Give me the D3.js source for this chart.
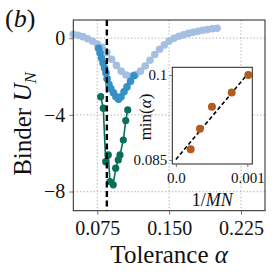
<!DOCTYPE html>
<html>
<head>
<meta charset="utf-8">
<script src="https://cdn.jsdelivr.net/npm/d3@7"></script>
<style>
  body { margin: 0; background: #fff; }
  svg text { font-family: "Liberation Serif", "DejaVu Serif", serif !important; fill: #111; }
</style>
</head>
<body>
<div id="chart"></div>
<script>
// data
var alphaLight = [0.05, 0.055, 0.06, 0.065, 0.07, 0.075, 0.08, 0.085, 0.09, 0.095, 0.1, 0.105, 0.11, 0.115, 0.12, 0.125, 0.13, 0.135, 0.14, 0.145, 0.15, 0.155, 0.16, 0.165, 0.17, 0.175, 0.18, 0.185, 0.19, 0.195, 0.2];
var binderLight = [0.2, 0.15, 0.08, -0.03, -0.15, -0.3, -0.48, -0.75, -1.1, -1.42, -1.72, -1.92, -1.97, -1.9, -1.72, -1.45, -1.15, -0.85, -0.58, -0.35, -0.15, 0.0, 0.1, 0.18, 0.25, 0.31, 0.36, 0.41, 0.45, 0.49, 0.52];

var alphaMid = [0.0763, 0.0779, 0.0794, 0.081, 0.0826, 0.0841, 0.0852, 0.0872, 0.0893, 0.0919, 0.0945, 0.0972, 0.0998, 0.1029, 0.106, 0.1097, 0.1133];
var binderMid = [-0.53, -0.77, -1.03, -1.29, -1.55, -1.81, -2.12, -2.41, -2.64, -2.85, -3.06, -3.19, -3.06, -2.8, -2.54, -2.25, -1.96];

var alphaDark = [0.0786, 0.0813, 0.0838, 0.0865, 0.0883, 0.0917, 0.0942, 0.0969, 0.0987, 0.1022, 0.1047, 0.1068];
var binderDark = [-3.05, -3.65, -6.44, -6.09, -7.48, -7.65, -6.78, -6.35, -6.09, -5.31, -4.3, -3.74];

var alphaStar = 0.085;

var xTicks = [0.075, 0.15, 0.225];
var xTickLabels = ["0.075", "0.150", "0.225"];
var yTicks = [0, -4, -8];
var yTickLabels = ["0", "\u22124", "\u22128"];

// inset
var invMN = [0.000207, 0.000337, 0.000505, 0.000781, 0.001014];
var minAlpha = [0.0869, 0.0905, 0.0944, 0.0969, 0.1];
var fitX = [0, 0.00102];
var fitY = [0.0851, 0.1004];
var insetXTicks = [0, 0.001];
var insetXLabels = ["0.0", "0.001"];
var insetYTicks = [0.085, 0.1];
var insetYLabels = ["0.085", "0.1"];

var FONT = '"Liberation Serif", "DejaVu Serif", serif';
var W = 275, H = 275;
var svg = d3.select("#chart").append("svg").attr("width", W).attr("height", H)
  .attr("font-family", FONT);

// plot box (window.top is reserved, so no "top" here)
var pL = 73.3, pR = 265, pT = 20, pB = 210.7;

var x = d3.scaleLinear().domain([0.05, 0.25]).range([pL, pR]);
var y = d3.scaleLinear().domain([-9, 0.95]).range([pB, pT]);

// grid
var grid = svg.append("g");
grid.selectAll("line.gx").data(xTicks).enter().append("line")
  .attr("x1", d => x(d)).attr("x2", d => x(d)).attr("y1", pT).attr("y2", pB)
  .attr("stroke", "#b8b8b8").attr("stroke-width", 1.2).attr("stroke-dasharray", "1.2,2.2");
grid.selectAll("line.gy").data(yTicks).enter().append("line")
  .attr("y1", d => y(d)).attr("y2", d => y(d)).attr("x1", pL).attr("x2", pR)
  .attr("stroke", "#b8b8b8").attr("stroke-width", 1.2).attr("stroke-dasharray", "1.2,2.2");

// axes
var xAxis = d3.axisBottom(x).tickValues(xTicks).tickSize(4).tickPadding(6)
  .tickFormat((d, i) => xTickLabels[i]);
var yAxis = d3.axisLeft(y).tickValues(yTicks).tickSize(4).tickPadding(4)
  .tickFormat((d, i) => yTickLabels[i]);

function styleAxis(g, size) {
  g.attr("font-family", FONT);
  g.select(".domain").remove();
  g.selectAll("line").attr("stroke", "#555").attr("stroke-width", 0.8);
  g.selectAll("text").attr("font-family", FONT).style("font-family", FONT)
    .style("font-size", size + "px").attr("fill", "#111");
}

var gx = svg.append("g").attr("transform", `translate(0,${pB})`).call(xAxis);
var gy = svg.append("g").attr("transform", `translate(${pL},0)`).call(yAxis);
styleAxis(gx, 20);
styleAxis(gy, 20);

// series
function series(xs, ys, color, r) {
  var pts = xs.map((d, i) => [d, ys[i]]);
  svg.append("path").datum(pts)
    .attr("d", d3.line().x(d => x(d[0])).y(d => y(d[1])))
    .attr("fill", "none").attr("stroke", color).attr("stroke-width", 1.6);
  svg.append("g").selectAll("circle").data(pts).enter().append("circle")
    .attr("cx", d => x(d[0])).attr("cy", d => y(d[1])).attr("r", r).attr("fill", color);
}
series(alphaLight, binderLight, "#a4bfe2", 3.8);
series(alphaMid, binderMid, "#3590c6", 3.8);
series(alphaDark, binderDark, "#0b6e5b", 3.6);

// dashed critical line
svg.append("line")
  .attr("x1", x(alphaStar)).attr("x2", x(alphaStar)).attr("y1", pT).attr("y2", pB)
  .attr("stroke", "#000").attr("stroke-width", 2.4).attr("stroke-dasharray", "6,3.5");

// frame
svg.append("rect").attr("x", pL).attr("y", pT)
  .attr("width", pR - pL).attr("height", pB - pT)
  .attr("fill", "none").attr("stroke", "#222").attr("stroke-width", 1);

// labels
svg.append("text").attr("x", (pL + pR) / 2).attr("y", 263).attr("text-anchor", "middle")
  .style("font-size", "25px")
  .html('Tolerance <tspan font-style="italic">α</tspan>');

svg.append("text").attr("transform", "translate(31,124) rotate(-90)").attr("text-anchor", "middle")
  .style("font-size", "25px")
  .html('Binder <tspan font-style="italic">U</tspan><tspan font-style="italic" font-size="17px" dy="5">N</tspan>');

svg.append("text").attr("x", 5).attr("y", 27).style("font-size", "26px")
  .html('(<tspan font-style="italic">b</tspan>)');

// inset
var il = 172.3, ir = 252.3, it = 67.3, ib = 164;
var ix = d3.scaleLinear().domain([-0.00005, 0.00107]).range([il, ir]);
var iy = d3.scaleLinear().domain([0.0843, 0.10136]).range([ib, it]);

svg.append("rect").attr("x", il).attr("y", it).attr("width", ir - il).attr("height", ib - it)
  .attr("fill", "#fff").attr("stroke", "#222").attr("stroke-width", 1);

var ixAxis = d3.axisBottom(ix).tickValues(insetXTicks).tickSize(3).tickPadding(5)
  .tickFormat((d, i) => insetXLabels[i]);
var iyAxis = d3.axisLeft(iy).tickValues(insetYTicks).tickSize(3).tickPadding(2)
  .tickFormat((d, i) => insetYLabels[i]);
var gix = svg.append("g").attr("transform", `translate(0,${ib})`).call(ixAxis);
var giy = svg.append("g").attr("transform", `translate(${il},0)`).call(iyAxis);
styleAxis(gix, 15);
styleAxis(giy, 15);

svg.append("line")
  .attr("x1", ix(fitX[0])).attr("y1", iy(fitY[0]))
  .attr("x2", ix(fitX[1])).attr("y2", iy(fitY[1]))
  .attr("stroke", "#000").attr("stroke-width", 1.6).attr("stroke-dasharray", "4,2.5");

svg.append("g").selectAll("circle").data(invMN).enter().append("circle")
  .attr("cx", d => ix(d)).attr("cy", (d, i) => iy(minAlpha[i])).attr("r", 4)
  .attr("fill", "#b35b20");

svg.append("text").attr("x", (il + ir) / 2).attr("y", 206).attr("text-anchor", "middle")
  .style("font-size", "18px")
  .html('1/<tspan font-style="italic">MN</tspan>');

svg.append("text").attr("transform", "translate(151,117) rotate(-90)").attr("text-anchor", "middle")
  .style("font-size", "17px")
  .html('min(<tspan font-style="italic">α</tspan>)');
</script>
</body>
</html>
